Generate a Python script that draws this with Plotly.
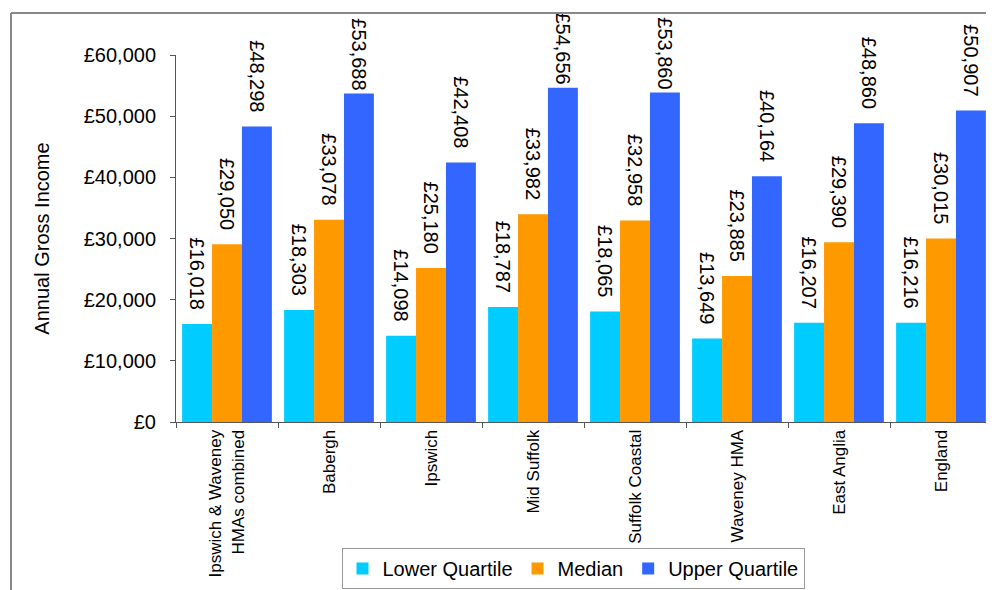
import plotly.graph_objects as go

categories = ["Ipswich & Waveney<br>HMAs combined", "Babergh", "Ipswich", "Mid Suffolk",
              "Suffolk Coastal", "Waveney HMA", "East Anglia", "England"]
lower_quartile = [16018, 18303, 14098, 18787, 18065, 13649, 16207, 16216]
median = [29050, 33078, 25180, 33982, 32958, 23885, 29390, 30015]
upper_quartile = [48298, 53688, 42408, 54656, 53860, 40164, 48860, 50907]
y_ticks = [0, 10000, 20000, 30000, 40000, 50000, 60000]
y_tick_labels = ["£0", "£10,000", "£20,000", "£30,000", "£40,000", "£50,000", "£60,000"]

series = [("Lower Quartile", lower_quartile, "#00CCFF"),
          ("Median", median, "#FF9900"),
          ("Upper Quartile", upper_quartile, "#3366FF")]

NBSP = "\u00a0"


def label_templates(vals):
    # labels near the top of the chart sit closer to their bars (as in the original)
    return ["£%{y:,}" + (NBSP * 2 if v < 53000 else "") for v in vals]


fig = go.Figure()
for name, vals, col in series:
    fig.add_trace(go.Bar(
        x=categories, y=vals, name=name,
        marker=dict(color=col, line=dict(width=0)),
        texttemplate=label_templates(vals), textposition="outside", textangle=90,
        textfont=dict(size=20, color="black"),
        cliponaxis=False,
    ))

# page body has an 8px margin; figure is sized so it fits the window
OFF = 8
W, H = 994 - OFF, 590 - OFF
L, T = 176 - OFF, 55 - OFF
plot_right, plot_bottom = 992 - OFF, 423 - OFF
R, B = W - plot_right, H - plot_bottom
pw, ph = plot_right - L, plot_bottom - T


def px(x):
    return (x - OFF - L) / pw


def py(y):
    return (plot_bottom - (y - OFF)) / ph


fig.update_layout(
    width=W, height=H,
    margin=dict(l=L, r=R, t=T, b=B),
    barmode="group", bargap=0.12, bargroupgap=0,
    plot_bgcolor="white", paper_bgcolor="white",
    font=dict(family="Liberation Sans, Arial, sans-serif", color="black", size=16),
    uniformtext=dict(minsize=20, mode="show"),
    legend=dict(orientation="h", x=px(573), xanchor="center", y=py(548), yanchor="top",
                bordercolor="#999999", borderwidth=1, font=dict(size=20),
                traceorder="normal", itemwidth=30, tracegroupgap=0),
    xaxis=dict(showline=True, linecolor="#555555", linewidth=1,
               ticks="outside", ticklen=5, tickcolor="#555555", tickson="boundaries",
               tickangle=-90, tickfont=dict(size=17), showgrid=False),
    yaxis=dict(range=[0, 60000], tickvals=y_ticks, ticktext=y_tick_labels,
               showline=True, linecolor="#555555", linewidth=1,
               ticks="outside", ticklen=5, tickcolor="#555555", showgrid=False,
               tickfont=dict(size=20), ticklabelstandoff=10,
               title=dict(text="Annual Gross Income", font=dict(size=20), standoff=28)),
    shapes=[
        dict(type="line", xref="paper", yref="paper",
             x0=px(11), x1=px(1000), y0=py(13), y1=py(13),
             line=dict(color="#888888", width=2)),
        dict(type="line", xref="paper", yref="paper",
             x0=px(11), x1=px(11), y0=py(13), y1=py(600),
             line=dict(color="#888888", width=2)),
    ],
)

fig.write_html("out.html")
